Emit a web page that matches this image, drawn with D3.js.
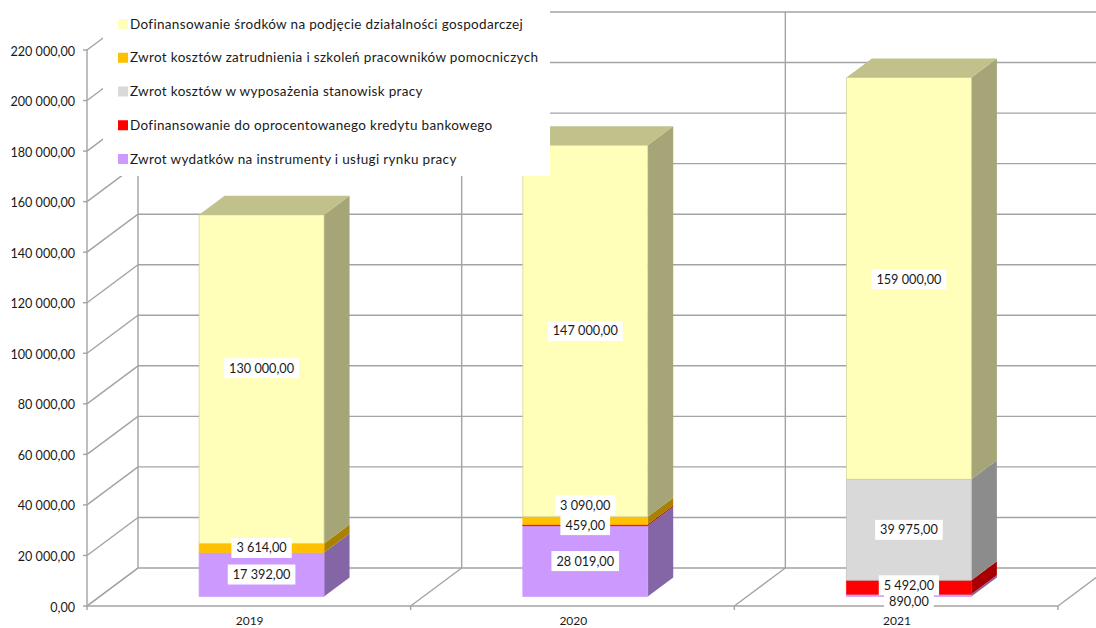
<!DOCTYPE html>
<html><head><meta charset="utf-8">
<script src="https://cdn.jsdelivr.net/npm/d3@7"></script>
<style>html,body{margin:0;padding:0;background:#fff}svg{display:block}text{font-family:Lato,"Open Sans",sans-serif;fill:#1a1a1a}</style>
</head><body><svg id="c" width="1096" height="628"></svg>
<script>
const categories = ["2019","2020","2021"];
const seriesNames = [
  "Dofinansowanie środków na podjęcie działalności gospodarczej",
  "Zwrot kosztów zatrudnienia i szkoleń pracowników pomocniczych",
  "Zwrot kosztów w wyposażenia stanowisk pracy",
  "Dofinansowanie do oprocentowanego kredytu bankowego",
  "Zwrot wydatków na instrumenty i usługi rynku pracy"
];
const dofinansowanie = [130000,147000,159000];
const zatrudnienie   = [3614,3090,0];
const wyposazenie    = [0,0,39975];
const kredyt         = [0,459,5492];
const wydatki        = [17392,28019,890];
const frontColors = ["#FFFFB9","#FFC000","#D9D9D9","#FF0000","#CC99FF"];
const sideColors  = ["#A5A577","#AA8000","#8C8C8C","#A80000","#8466A6"];
const edgeColors  = ["#CFCF96","#FFC000","#BDBDBD","#FF0000","#CC99FF"];
const topColor = "#C1C28B";
const tickValues = [0,20000,40000,60000,80000,100000,120000,140000,160000,180000,200000,220000];
const labelShift = {"0-2019":-11,"0-2021":1,"1-2020":-15.5,"3-2021":-2,"4-2021":6.5};

const svg = d3.select("#c");
const W = {x0:87,x1:1058,y0:606,y1:50,dx:51,dy:-38,near:.25,far:.75};
const x = d3.scaleBand().domain(categories).range([W.x0,W.x1]).paddingInner(.614).paddingOuter(.307);
const outer = d3.scaleBand().domain(categories).range([W.x0,W.x1]);
const y = d3.scaleLinear().domain([0,220000]).range([W.y0,W.y1]);
const fmt = d3.formatLocale({decimal:",",thousands:" ",grouping:[3],currency:["",""]}).format(",.2f");
const P = (px,v,d)=>[px+d*W.dx,y(v)+d*W.dy];
const poly = pts=>pts.map(p=>p.join(",")).join(" ");
const grid = "#a3a3a3", gw = 1.4;

const g = svg.append("g");
const line = (a,b)=>g.append("line").attr("x1",a[0]).attr("y1",a[1]).attr("x2",b[0]).attr("y2",b[1]).attr("stroke",grid).attr("stroke-width",gw);
const bounds = [...categories.map(c=>outer(c)), W.x1];

// back and side walls
tickValues.forEach(t=>{
  line(P(W.x0,t,0),P(W.x0,t,1));
  line(P(W.x0,t,1),P(W.x1,t,1));
});
bounds.forEach(b=>{
  line(P(b,0,0),P(b,0,1));
  line(P(b,0,1),P(b,220000,1));
});
line(P(W.x0,0,0),P(W.x1,0,0));
line(P(W.x0,0,0),P(W.x0,220000,0));
bounds.forEach(b=>line(P(b,0,0),[b,W.y0+4]));
tickValues.forEach(t=>line([W.x0-4,y(t)],[W.x0,y(t)]));

// stacked bars
const tableRows = categories.map((c,i)=>({c,s0:dofinansowanie[i],s1:zatrudnienie[i],s2:wyposazenie[i],s3:kredyt[i],s4:wydatki[i]}));
const order = ["s4","s3","s2","s1","s0"];
const stacks = d3.stack().keys(order)(tableRows);
const bars = svg.append("g"), labels = svg.append("g");
categories.forEach((c,ci)=>{
  const xa = x(c), xb = xa+x.bandwidth();
  stacks.forEach(layer=>{
    const idx = +layer.key.slice(1), [v0,v1] = layer[ci];
    if (v1===v0) return;
    bars.append("polygon").attr("fill",sideColors[idx])
      .attr("points",poly([P(xb,v0,W.near),P(xb,v0,W.far),P(xb,v1,W.far),P(xb,v1,W.near)]));
    bars.append("polygon").attr("fill",frontColors[idx]).attr("stroke",edgeColors[idx]).attr("stroke-width",.7)
      .attr("points",poly([P(xa,v0,W.near),P(xb,v0,W.near),P(xb,v1,W.near),P(xa,v1,W.near)]));
  });
  const total = stacks[stacks.length-1][ci][1];
  bars.append("polygon").attr("fill",topColor)
    .attr("points",poly([P(xa,total,W.near),P(xb,total,W.near),P(xb,total,W.far),P(xa,total,W.far)]));
});
stacks.forEach(layer=>{
  categories.forEach((c,ci)=>{
    const idx = +layer.key.slice(1), [v0,v1] = layer[ci];
    if (v1===v0) return;
    const cx = x(c)+x.bandwidth()/2+W.near*W.dx;
    const cy = y((v0+v1)/2)+W.near*W.dy+(labelShift[idx+"-"+c]||0);
    const t = labels.append("text").attr("x",cx).attr("y",cy).attr("dy","0.35em").attr("text-anchor","middle").attr("font-size",12.7).text(fmt(v1-v0));
    const w = t.node().getComputedTextLength();
    labels.insert("rect","text").attr("x",cx-w/2-5).attr("y",cy-10).attr("width",w+10).attr("height",20).attr("fill","#fff");
  });
});

// axis labels
const axisG = svg.append("g").attr("transform",`translate(${W.x0-12},1)`)
  .call(d3.axisLeft(y).tickValues(tickValues).tickFormat(fmt).tickSize(0).tickPadding(0));
axisG.select(".domain").remove();
axisG.selectAll("text").attr("font-size",12.6).attr("font-family","Lato");
const catG = svg.append("g").attr("transform",`translate(0.8,${W.y0+8.4})`)
  .call(d3.axisBottom(outer).tickSize(0).tickPadding(2));
catG.select(".domain").remove();
catG.selectAll("text").attr("font-size",12).attr("font-family","Lato");

// legend
const leg = svg.append("g");
leg.append("rect").attr("x",103).attr("y",0).attr("width",447).attr("height",176).attr("fill","#fff");
const legY = d3.scalePoint().domain(seriesNames).range([24,159]);
seriesNames.forEach((n,i)=>{
  leg.append("rect").attr("x",118).attr("y",legY(n)-5).attr("width",10).attr("height",10).attr("fill",frontColors[i]);
  leg.append("text").attr("x",130).attr("y",legY(n)).attr("dy","0.35em").attr("font-size",13.5).attr("letter-spacing",.33).text(n);
});
</script></body></html>
